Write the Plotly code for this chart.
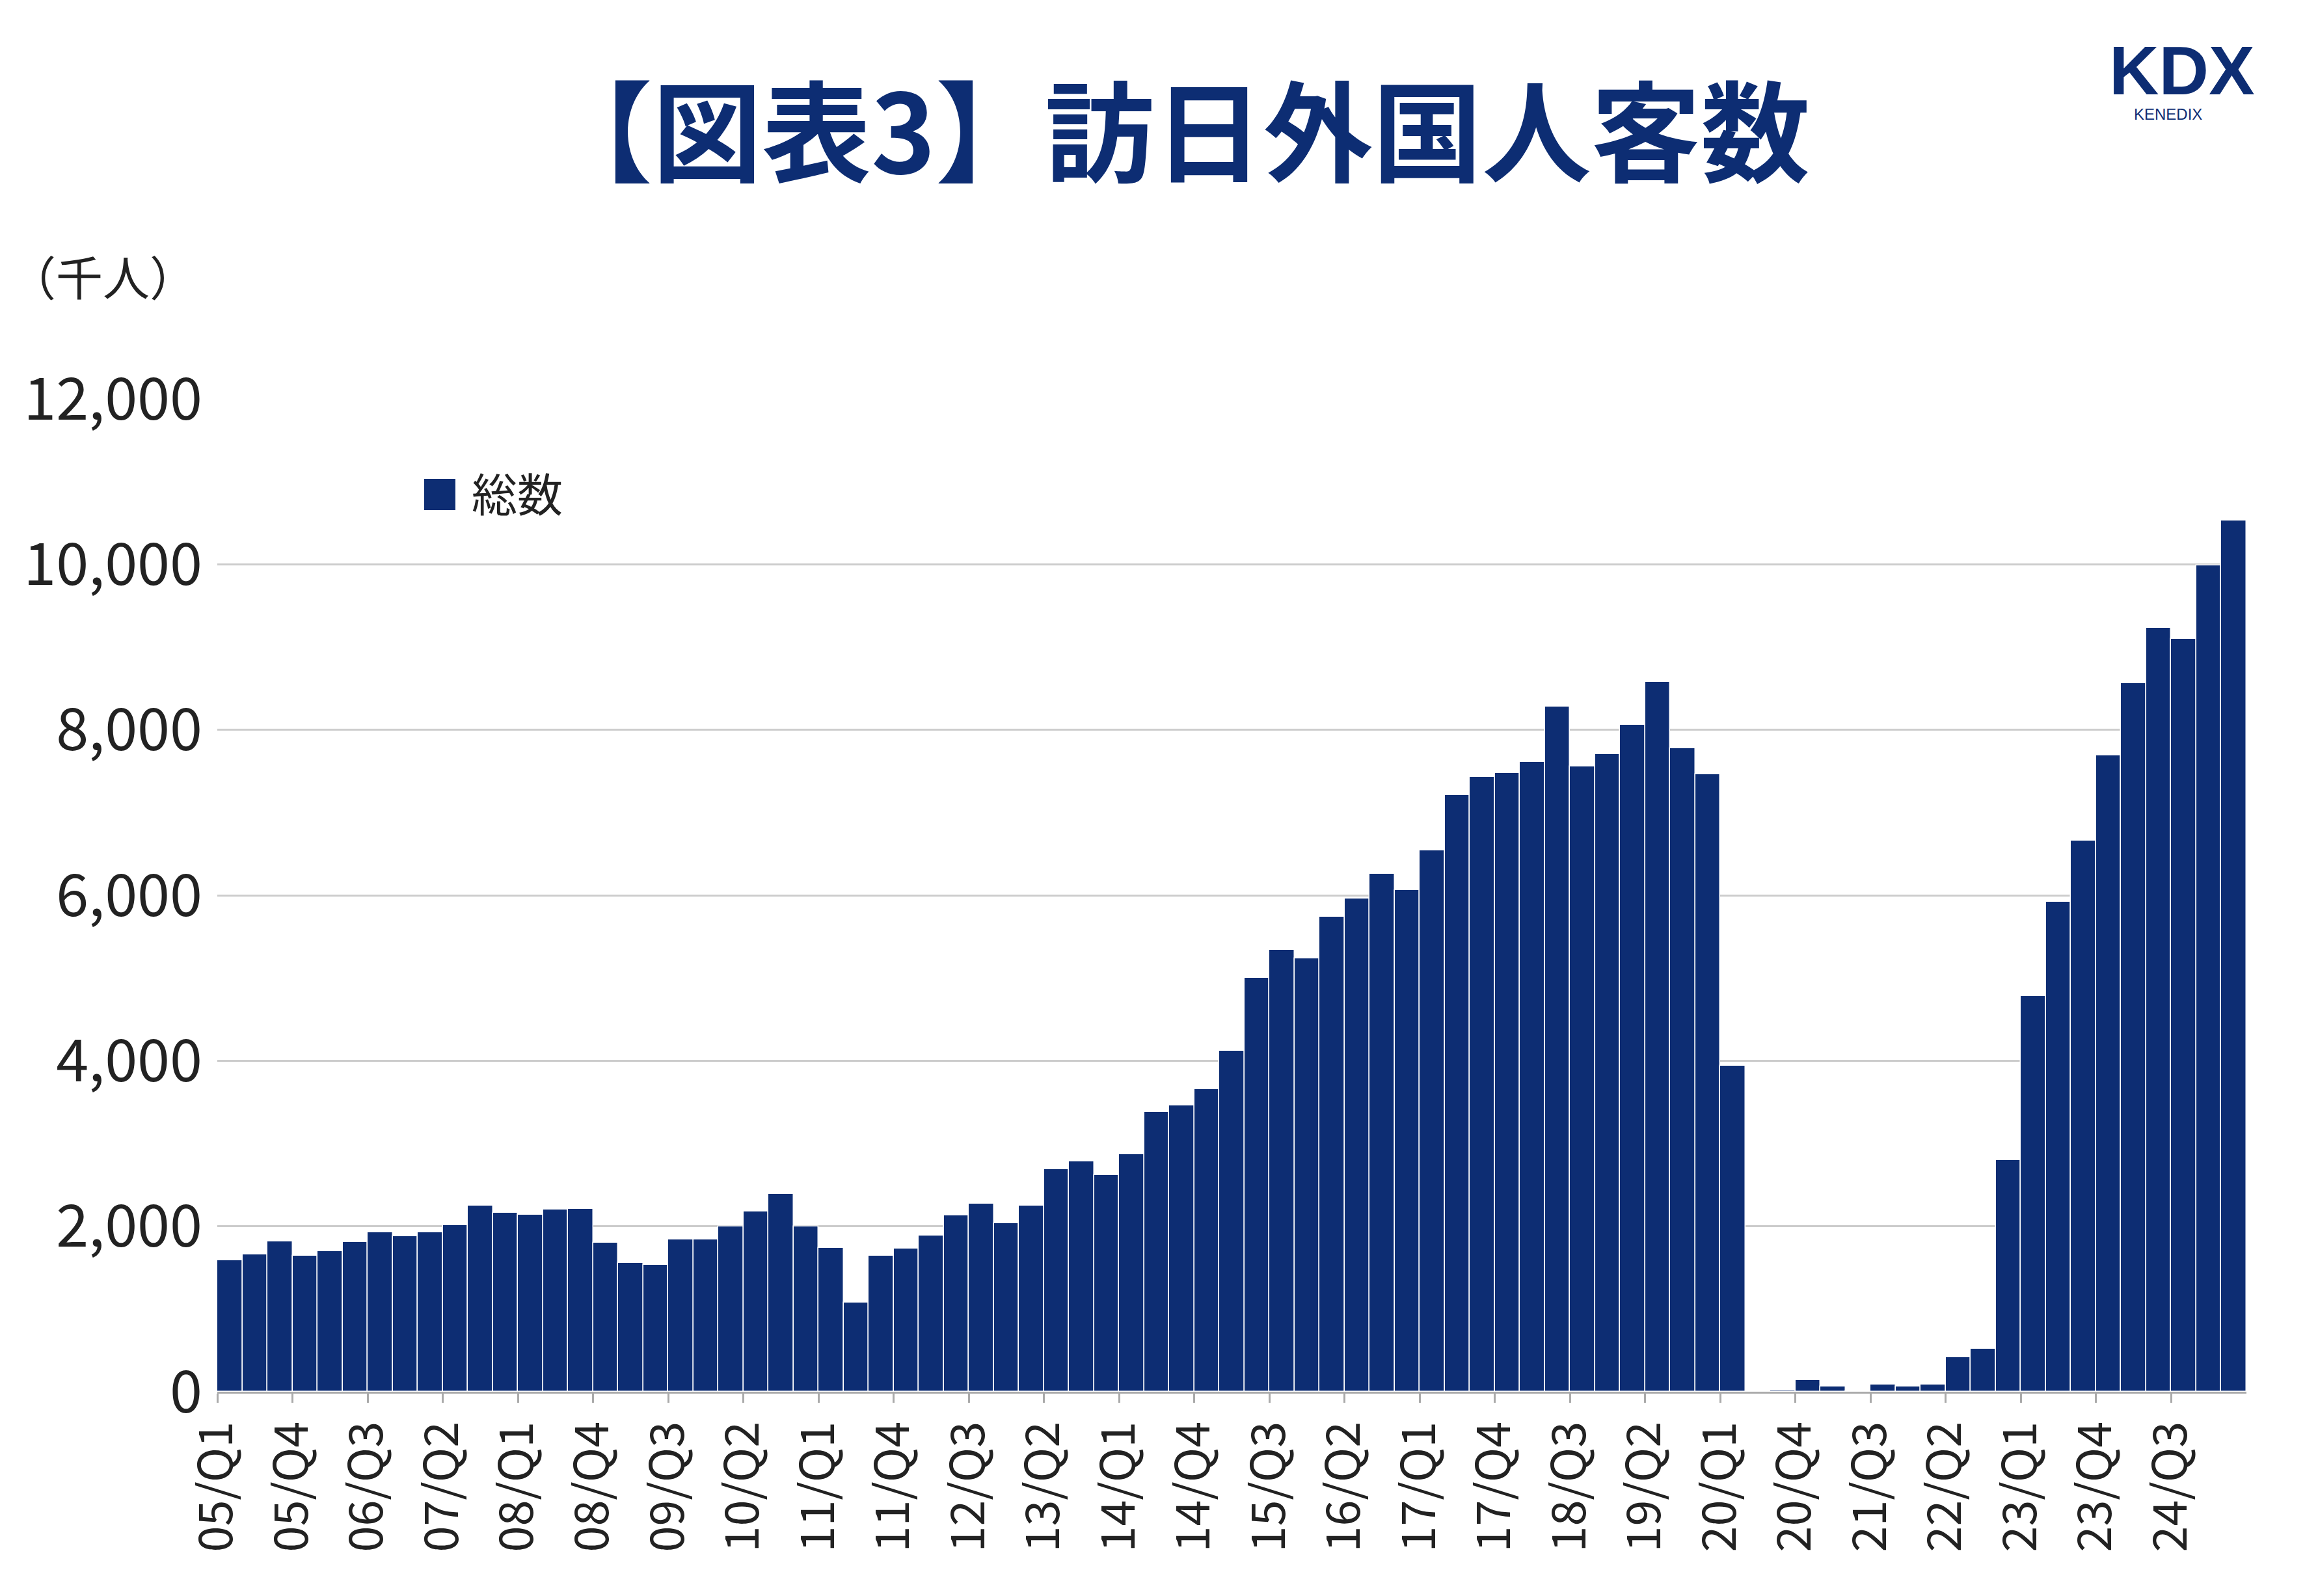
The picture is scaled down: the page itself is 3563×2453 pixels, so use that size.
import plotly.graph_objects as go

years = list(range(5, 26))
quarters = [f"{y:02d}/Q{q}" for y in years for q in range(1, 5)][:81]

values = [
    1590, 1660, 1820, 1640,
    1700, 1810, 1930, 1880,
    1930, 2010, 2250, 2160,
    2140, 2200, 2210, 1800,
    1560, 1530, 1840, 1840,
    2000, 2180, 2390, 2000,
    1740, 1080, 1640, 1730,
    1890, 2130, 2270, 2040,
    2250, 2690, 2780, 2620,
    2870, 3380, 3460, 3660,
    4120, 5000, 5340, 5240,
    5740, 5960, 6260, 6060,
    6540, 7210, 7430, 7480,
    7610, 8280, 7560, 7710,
    8060, 8580, 7780, 7460,
    3940, 3, 13, 140,
    60, 10, 90, 60,
    90, 420, 520, 2800,
    4780, 5920, 6660, 7690,
    8560, 9230, 9100, 9990,
    10530,
]

navy = "#0d2d73"
W, H = 3563, 2453
L, R, T, B = 326, 118, 605, 322


def py(top):  # pixel from top -> paper y
    return (H - B - top) / (H - T - B)


def px(left):  # pixel from left -> paper x
    return (left - L) / (W - L - R)


xpos = [i + 0.5 for i in range(len(values))]
tick_idx = list(range(0, len(values), 3))

fig = go.Figure()
fig.add_trace(go.Bar(
    x=xpos, y=values, name="総数", width=1, showlegend=False,
    marker=dict(color=navy, line=dict(color="white", width=1.5)),
))

fig.update_layout(
    width=W, height=H,
    paper_bgcolor="white", plot_bgcolor="white",
    margin=dict(l=L, r=R, t=T, b=B),
    font=dict(family="Noto Sans CJK JP", color="#222222", size=68),
    showlegend=False,
    xaxis=dict(range=[0, len(values)], tickvals=tick_idx,
               ticktext=[quarters[i] for i in tick_idx], tickangle=-90,
               showgrid=False, showline=True, linecolor="#aaaaaa", linewidth=3,
               ticks="outside", ticklen=14, tickcolor="#aaaaaa", tickwidth=3,
               tickfont=dict(size=72)),
    yaxis=dict(range=[0, 12000], tickvals=list(range(0, 12001, 2000)),
               tickformat=",", gridcolor="#cccccc", gridwidth=3,
               zeroline=False, ticks="", ticklabelstandoff=22,
               tickfont=dict(size=90)),
    bargap=0,
)


def note(text, left, top, size, color="#222222", anchor="center", family=None):
    f = dict(size=size, color=color)
    if family:
        f["family"] = family
    fig.add_annotation(text=text, xref="paper", yref="paper", x=px(left), y=py(top),
                       xanchor=anchor, yanchor="middle", showarrow=False, font=f)


note("<b>【図表3】訪日外国人客数</b>", 1800, 185, 168, navy)
note("（千人）", 4, 415, 72, anchor="left")
note("<b>KDX</b>", 3460, 100, 106, navy, anchor="right", family="Liberation Sans")
note("KENEDIX", 3270, 168, 24, navy, anchor="left", family="Liberation Sans")
# legend
note("■", 668, 748, 60, navy)
note("総数", 715, 748, 70, anchor="left")

fig.write_html("out.html")
